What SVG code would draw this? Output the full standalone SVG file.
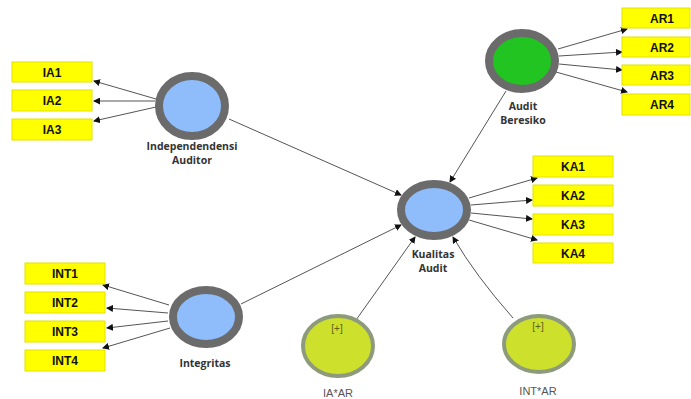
<svg xmlns="http://www.w3.org/2000/svg" width="691" height="399" viewBox="0 0 691 399">
<style>
.box{fill:#ffff00;stroke:#e2e200;stroke-width:1}
.bt{font-family:"Liberation Sans",Arial,sans-serif;font-size:12px;font-weight:bold;fill:#111;text-anchor:middle}
.lt{font-family:"Open Sans","Liberation Sans",sans-serif;font-size:10.5px;font-weight:bold;fill:#333;text-anchor:middle}
.ring{fill:#8fbcfb;stroke:#6b6b6b;stroke-width:8}
.mod{fill:#cde02c;stroke:#8d9b7c;stroke-width:4}
.pl{font-family:"Liberation Sans",Arial,sans-serif;font-size:10px;fill:#5e5d14;text-anchor:middle}
.ml{font-family:"Liberation Sans",Arial,sans-serif;font-size:11px;fill:#555;text-anchor:middle}
.c{stroke:#555;stroke-width:1;fill:none;marker-end:url(#ah)}
</style>
<defs>
<marker id="ah" markerWidth="7" markerHeight="7" refX="6" refY="3.5" orient="auto" markerUnits="userSpaceOnUse">
<path d="M0,0 L7,3.5 L0,7 z" fill="#111"/>
</marker>
</defs>
<g id="connectors">
<line class="c" x1="156" y1="99" x2="94" y2="81"/>
<line class="c" x1="155" y1="101" x2="94" y2="101"/>
<line class="c" x1="156" y1="107" x2="94" y2="121"/>
<line class="c" x1="558" y1="49" x2="627" y2="29"/>
<line class="c" x1="559" y1="56" x2="622" y2="52"/>
<line class="c" x1="559" y1="64" x2="622" y2="70"/>
<line class="c" x1="556" y1="72" x2="627" y2="92"/>
<line class="c" x1="469" y1="198" x2="537" y2="178"/>
<line class="c" x1="471" y1="205" x2="532" y2="200"/>
<line class="c" x1="471" y1="213" x2="532" y2="219"/>
<line class="c" x1="469" y1="220" x2="537" y2="240"/>
<line class="c" x1="169" y1="305" x2="103" y2="285"/>
<line class="c" x1="168" y1="313" x2="107" y2="308"/>
<line class="c" x1="168" y1="321" x2="107" y2="328"/>
<line class="c" x1="170" y1="328" x2="103" y2="348"/>
<line class="c" x1="229" y1="119" x2="401" y2="195"/>
<line class="c" x1="506" y1="91" x2="450" y2="182"/>
<line class="c" x1="241" y1="304" x2="401" y2="225"/>
<line class="c" x1="356" y1="320" x2="415" y2="237"/>
<path class="c" d="M513,318 Q475,275 453,237"/>
</g>
<g id="IA1"><rect class="box" x="12" y="62" width="80" height="20"/><text class="bt" x="52" y="76.5">IA1</text></g>
<g id="IA2"><rect class="box" x="12" y="90" width="80" height="21"/><text class="bt" x="52" y="105">IA2</text></g>
<g id="IA3"><rect class="box" x="12" y="119" width="80" height="21"/><text class="bt" x="52" y="134">IA3</text></g>
<g id="AR1"><rect class="box" x="622" y="8" width="68" height="20"/><text class="bt" x="662" y="22.5">AR1</text></g>
<g id="AR2"><rect class="box" x="622" y="37" width="68" height="20"/><text class="bt" x="662" y="51.5">AR2</text></g>
<g id="AR3"><rect class="box" x="622" y="65" width="68" height="20"/><text class="bt" x="662" y="79.5">AR3</text></g>
<g id="AR4"><rect class="box" x="622" y="94" width="68" height="21"/><text class="bt" x="662" y="109">AR4</text></g>
<g id="KA1"><rect class="box" x="533" y="156" width="80" height="21"/><text class="bt" x="573" y="171">KA1</text></g>
<g id="KA2"><rect class="box" x="533" y="185" width="80" height="21"/><text class="bt" x="573" y="200">KA2</text></g>
<g id="KA3"><rect class="box" x="533" y="214" width="80" height="21"/><text class="bt" x="573" y="229">KA3</text></g>
<g id="KA4"><rect class="box" x="533" y="243" width="80" height="20"/><text class="bt" x="573" y="257.5">KA4</text></g>
<g id="INT1"><rect class="box" x="25" y="263" width="80" height="21"/><text class="bt" x="65" y="278">INT1</text></g>
<g id="INT2"><rect class="box" x="25" y="292" width="80" height="21"/><text class="bt" x="65" y="307">INT2</text></g>
<g id="INT3"><rect class="box" x="25" y="321" width="80" height="21"/><text class="bt" x="65" y="336">INT3</text></g>
<g id="INT4"><rect class="box" x="25" y="350" width="80" height="21"/><text class="bt" x="65" y="365">INT4</text></g>
<g id="IndependendensiAuditor"><ellipse class="ring" cx="192" cy="106" rx="33" ry="30"/><text class="lt" x="192" y="150">Independendensi</text><text class="lt" x="192" y="164">Auditor</text></g>
<g id="AuditBeresiko"><ellipse class="ring" cx="522" cy="61" rx="33" ry="28" style="fill:#22c422"/><text class="lt" x="523" y="110">Audit</text><text class="lt" x="523" y="124">Beresiko</text></g>
<g id="KualitasAudit"><ellipse class="ring" cx="434" cy="210" rx="33" ry="26"/><text class="lt" x="433" y="258">Kualitas</text><text class="lt" x="433" y="272">Audit</text></g>
<g id="Integritas"><ellipse class="ring" cx="206" cy="317" rx="33" ry="27"/><text class="lt" x="205" y="367">Integritas</text></g>
<g id="IAxAR"><ellipse class="mod" cx="338" cy="346" rx="35" ry="30"/><text class="pl" x="337" y="332">[+]</text><text class="ml" x="338" y="397">IA*AR</text></g>
<g id="INTxAR"><ellipse class="mod" cx="539" cy="344" rx="35" ry="28"/><text class="pl" x="538" y="330">[+]</text><text class="ml" x="538" y="395">INT*AR</text></g>
</svg>
